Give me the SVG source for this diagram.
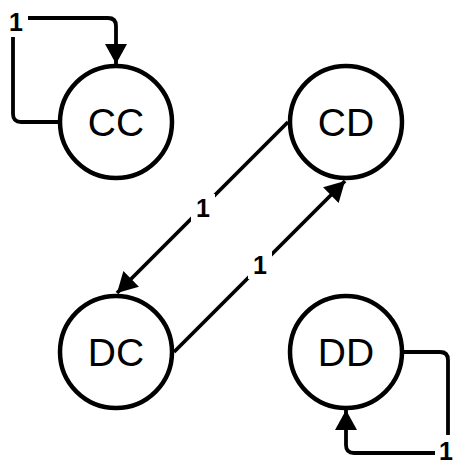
<svg xmlns="http://www.w3.org/2000/svg" width="466" height="471" viewBox="0 0 466 471">
<style>
.node circle{fill:#fff;stroke:#000;stroke-width:4.5}
.node text{font-family:"Liberation Sans",Arial,sans-serif;font-size:39px;text-anchor:middle;fill:#000}
.edge{fill:none;stroke:#000;stroke-width:3.8}
.lbl rect{fill:#fff}
.lbl text{font-family:"Liberation Sans",Arial,sans-serif;font-size:25px;font-weight:bold;text-anchor:middle;fill:#000}
</style>
<defs>
<marker id="ah" markerUnits="userSpaceOnUse" markerWidth="22" markerHeight="22" viewBox="0 0 20 22" refX="20" refY="11" orient="auto">
<path d="M0,0 L20,11 L0,22 Z" fill="#000"/>
</marker>
</defs>
<rect width="466" height="471" fill="#fff"/>
<g id="connectors">
<path class="edge" d="M58,122 H21 Q13,122 13,114 V26 Q13,18 21,18 H108 Q116,18 116,26 V64" marker-end="url(#ah)"/>
<path class="edge" d="M404,352 H440 Q448,352 448,360 V445 Q448,453 440,453 H354 Q346,453 346,445 V410" marker-end="url(#ah)"/>
<path class="edge" d="M288,122 L117,293" marker-end="url(#ah)"/>
<path class="edge" d="M174,352 L345,181" marker-end="url(#ah)"/>
<g class="lbl"><rect x="4" y="6" width="24" height="31"/><text x="16" y="31">1</text></g>
<g class="lbl"><rect x="435" y="435" width="24" height="31"/><text x="446" y="460">1</text></g>
<g class="lbl"><rect x="191" y="194" width="24" height="28"/><text x="203" y="217">1</text></g>
<g class="lbl"><rect x="248" y="251" width="24" height="28"/><text x="260" y="274">1</text></g>
</g>
<g id="CC" class="node"><circle cx="116" cy="122" r="56"/><text x="116" y="136">CC</text></g>
<g id="CD" class="node"><circle cx="346" cy="122" r="56"/><text x="346" y="136">CD</text></g>
<g id="DC" class="node"><circle cx="116" cy="352" r="56"/><text x="116" y="366">DC</text></g>
<g id="DD" class="node"><circle cx="346" cy="352" r="56"/><text x="346" y="366">DD</text></g>
</svg>
